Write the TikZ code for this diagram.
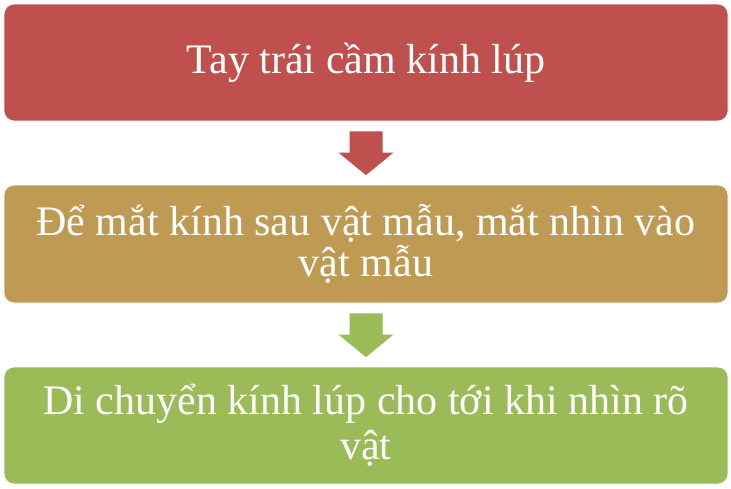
\documentclass[tikz,border=0pt]{standalone}
\usepackage{fontspec}
\setmainfont{Liberation Serif}
\usetikzlibrary{calc}
\definecolor{cred}{HTML}{C0504D}
\definecolor{ctan}{HTML}{BE9A53}
\definecolor{cgreen}{HTML}{9BBB59}
\tikzset{
  stepbox/.style={draw=white, line width=0.8pt, rounded corners=10pt,
    minimum width=724pt, minimum height=117pt, inner sep=0pt,
    text=white, align=center, font=\fontsize{42}{41.5}\selectfont},
}
\newcommand{\blockarrowdown}[3]{%
  \fill[#3] let \p1=(#1.south), \p2=(#2.north) in
    (\x1-16.5pt,\y1-10pt) -- (\x1+16.5pt,\y1-10pt) -- (\x1+16.5pt,\y2+32pt)
    -- (\x1+27.5pt,\y2+32pt) -- (\x1,\y2+9.5pt) -- (\x1-27.5pt,\y2+32pt)
    -- (\x1-16.5pt,\y2+32pt) -- cycle;}
\begin{document}
\begin{tikzpicture}[x=1pt,y=-1pt]
\useasboundingbox[fill=white] (0,0) rectangle (731,488);
\node[stepbox, fill=cred] (b1) at (366,62.5) {Tay trái cầm kính lúp};
\node[stepbox, fill=ctan, minimum height=118pt] (b2) at (366,244) {Để mắt kính sau vật mẫu, mắt nhìn vào\\vật mẫu};
\node[stepbox, fill=cgreen] (b3) at (366,425.5) {Di chuyển kính lúp cho tới khi nhìn rõ\\[4pt]vật};
\blockarrowdown{b1}{b2}{cred}
\blockarrowdown{b2}{b3}{cgreen}
\end{tikzpicture}
\end{document}
